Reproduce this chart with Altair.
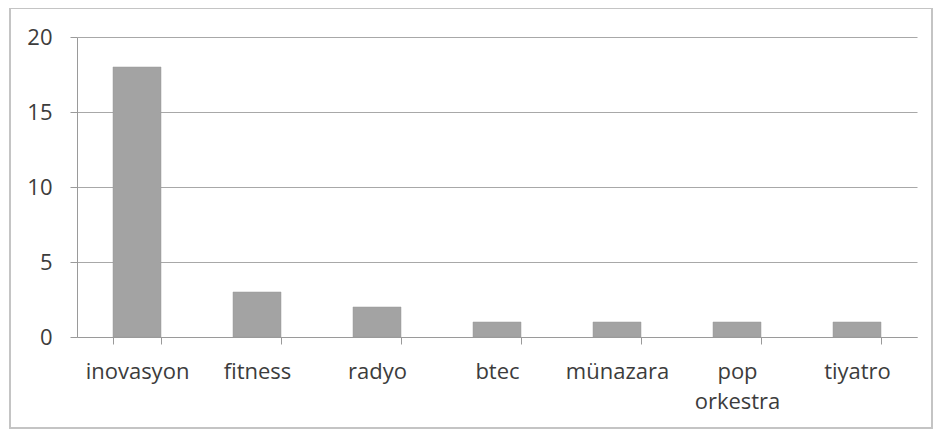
import altair as alt
import pandas as pd

categories = ["inovasyon", "fitness", "radyo", "btec", "münazara", "pop orkestra", "tiyatro"]
values = [18, 3, 2, 1, 1, 1, 1]

df = pd.DataFrame({"kategori": categories, "deger": values})

bars = alt.Chart(df).mark_bar(color="#a3a3a3", stroke="#999999", strokeWidth=0.5).encode(
    x=alt.X("kategori:N", sort=categories, title=None,
            scale=alt.Scale(paddingInner=0.6, paddingOuter=0.3),
            axis=alt.Axis(labelAngle=0, labelFont="Open Sans", labelFontSize=22,
                          labelColor="#3c3c3c", tickBand="extent", tickSize=7,
                          tickColor="#9a9a9a", domainColor="#9a9a9a", labelPadding=17,
                          labelLineHeight=30,
                          labelExpr="split(datum.label, ' ')")),
    y=alt.Y("deger:Q", title=None,
            scale=alt.Scale(domain=[0, 20]),
            axis=alt.Axis(values=[0, 5, 10, 15, 20], labelFont="Open Sans", labelFontSize=22,
                          labelColor="#3c3c3c", tickSize=7, tickColor="#9a9a9a",
                          domainColor="#9a9a9a", gridColor="#a8a8a8", labelPadding=18)),
)

frame = alt.Chart(df).mark_rect(fill=None, stroke="#c4c4c4", strokeWidth=1.5).encode(
    x=alt.value(-67), x2=alt.value(855), y=alt.value(-29), y2=alt.value(391)
)

chart = alt.layer(frame, bars).properties(
    width=840, height=300,
    autosize=alt.AutoSizeParams(type="none"),
    padding={"left": 69, "top": 29, "right": 16, "bottom": 93},
).configure_view(stroke=None).configure_axis(gridWidth=1.2)

chart.save("out.html", embed_options={"renderer": "svg", "actions": False})
